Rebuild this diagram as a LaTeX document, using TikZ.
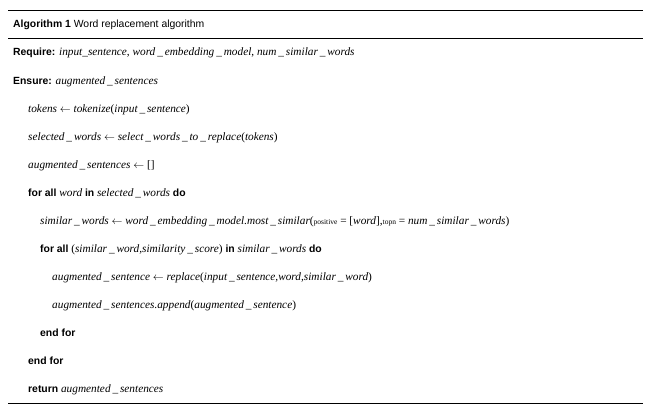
\documentclass[tikz,border=0pt]{standalone}
\usepackage{fontspec}
\setmainfont{Liberation Serif}
\newfontfamily\sansf{Liberation Sans}
\begin{document}
\begin{tikzpicture}[x=1pt,y=-1pt,
  row/.style={anchor=base west,inner sep=0pt,font=\fontsize{11.3}{13}\selectfont}]
\useasboundingbox (0,0) rectangle (650,412);
\draw[line width=0.8pt] (8,10.5) -- (643,10.5);
\draw[line width=0.6pt] (8,38.5) -- (643,38.5);
\draw[line width=0.8pt] (8,403.5) -- (643,403.5);
\newcommand{\K}[1]{{\sansf\fontsize{10.4}{12}\selectfont #1}}
\newcommand{\I}[1]{\textit{#1}}
\newcommand{\U}{\,\_\,}
\newcommand{\Sm}[1]{{\fontsize{7.5}{9}\selectfont #1}}
\node[row] (t) at (13,28) {\K{\textbf{Algorithm 1} Word replacement algorithm}};
\node[row] (r1) at (13,56) {\K{\textbf{Require:}} \I{input\_sentence}, \I{word\U embedding\U model}, \I{num\U similar\U words}};
\node[row] (r2) at (13,84) {\K{\textbf{Ensure:}} \I{augmented\U sentences}};
\node[row] (r3) at (28,112) {\I{tokens} $\leftarrow$ \I{tokenize}(\I{input\U sentence})};
\node[row] (r4) at (28,140) {\I{selected\U words} $\leftarrow$ \I{select\U words\U to\U replace}(\I{tokens})};
\node[row] (r5) at (28,168) {\I{augmented\U sentences} $\leftarrow$ []};
\node[row] (r6) at (28,196) {\K{\textbf{for all}} \I{word} \K{\textbf{in}} \I{selected\U words} \K{\textbf{do}}};
\node[row] (r7) at (40,224) {\I{similar\U words} $\leftarrow$ \I{word\U embedding\U model.most\U similar}(\Sm{positive} = [\I{word}],\Sm{topn} = \I{num\U similar\U words})};
\node[row] (r8) at (40,252) {\K{\textbf{for all}} (\I{similar\U word,similarity\U score}) \K{\textbf{in}} \I{similar\U words} \K{\textbf{do}}};
\node[row] (r9) at (52,280) {\I{augmented\U sentence} $\leftarrow$ \I{replace}(\I{input\U sentence,word,similar\U word})};
\node[row] (r10) at (52,308) {\I{augmented\U sentences.append}(\I{augmented\U sentence})};
\node[row] (r11) at (40,336) {\K{\textbf{end for}}};
\node[row] (r12) at (28,364) {\K{\textbf{end for}}};
\node[row] (r13) at (28,392) {\K{\textbf{return}} \I{augmented\U sentences}};
\end{tikzpicture}
\end{document}
